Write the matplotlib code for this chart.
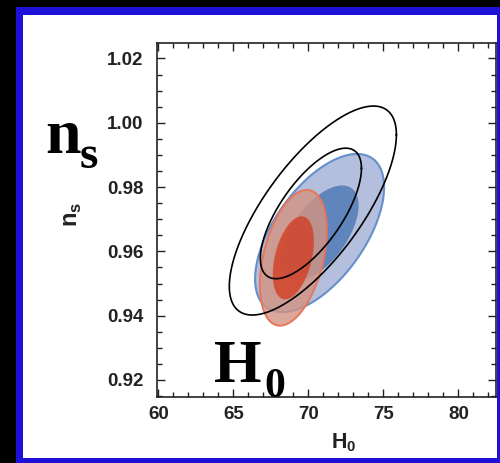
import numpy as np
import matplotlib
matplotlib.use("Agg")
import matplotlib.pyplot as plt
from matplotlib.patches import Rectangle

# --- DATA ---
# each contour: centre H0, centre ns, half-width in H0, half-height in ns, correlation
blue_centre = [70.75, 0.9657]
blue_halfw = [4.30, 2.60]          # 2-sigma, 1-sigma
blue_halfh = [0.0246, 0.0148]
blue_rho = 0.58

red_centre = [69.0, 0.958]
red_halfw = [2.23, 1.37]
red_halfh = [0.0211, 0.0129]
red_rho = 0.40

black_centre = [[70.30, 0.9727], [70.17, 0.9718]]
black_halfw = [5.57, 3.37]
black_halfh = [0.0325, 0.0203]
black_rho = [0.725, 0.69]

xticks = [60, 65, 70, 75, 80]
yticks = [0.92, 0.94, 0.96, 0.98, 1.00, 1.02]
xlim = (59.93, 82.51)
ylim = (0.9148, 1.0249)


def contour(c, a, b, rho, n=300):
    t = np.linspace(0, 2 * np.pi, n)
    x = c[0] + a * np.cos(t)
    y = c[1] + b * (rho * np.cos(t) + np.sqrt(1 - rho ** 2) * np.sin(t))
    return x, y


plt.rcParams['mathtext.fontset'] = 'custom'
plt.rcParams['mathtext.rm'] = 'Liberation Sans:bold'

W, H = 500, 463
fig = plt.figure(figsize=(W / 100, H / 100), dpi=100, facecolor='black')

# blue frame + white panel (behind the axes)
fig.patches.append(Rectangle((16 / W, -0.05), 1.0, 1 - 7 / H + 0.05,
                             transform=fig.transFigure, facecolor='#1f10d8',
                             edgecolor='none', zorder=-2))
fig.patches.append(Rectangle((23 / W, 5 / H), (497 - 23) / W, (458 - 15) / H,
                             transform=fig.transFigure, facecolor='white',
                             edgecolor='none', zorder=-1))

ax = fig.add_axes([157.3 / W, 1 - 396.7 / H, (496 - 157.3) / W, (396.7 - 42.7) / H])
ax.set_facecolor('white')

# blue (2 sigma then 1 sigma)
x, y = contour(blue_centre, blue_halfw[0], blue_halfh[0], blue_rho)
ax.fill(x, y, facecolor='#b4bedd', edgecolor='#6590cb', linewidth=1.5, zorder=2)
x, y = contour(blue_centre, blue_halfw[1], blue_halfh[1], blue_rho)
ax.fill(x, y, facecolor='#5f85bc', edgecolor='none', zorder=2)

# red, slightly transparent over blue
x, y = contour(red_centre, red_halfw[0], red_halfh[0], red_rho)
ax.fill(x, y, facecolor=(211 / 255, 147 / 255, 130 / 255, 0.8), edgecolor='#e8765a',
        linewidth=1.4, zorder=3)
x, y = contour(red_centre, red_halfw[1], red_halfh[1], red_rho)
ax.fill(x, y, facecolor=(209 / 255, 72 / 255, 48 / 255, 0.9), edgecolor='none', zorder=3)

# black outline contours
for c, a, b, r in zip(black_centre, black_halfw, black_halfh, black_rho):
    x, y = contour(c, a, b, r)
    ax.plot(x, y, color='black', linewidth=1.2, zorder=4)

ax.set_xlim(*xlim)
ax.set_ylim(*ylim)
ax.set_xticks(xticks)
ax.set_yticks(yticks)
ax.set_yticklabels([f"{v:.2f}" for v in yticks])
ax.set_xticks(np.arange(61, 83, 1), minor=True)
ax.set_yticks(np.arange(0.915, 1.025, 0.005), minor=True)
ax.tick_params(which='both', direction='in', top=True, right=True, color='#222222',
               width=1.0)
ax.tick_params(which='major', length=6, labelsize=13.5, pad=10)
ax.tick_params(which='minor', length=3.5)
ax.tick_params(axis='x', which='major', pad=7)
for lab in ax.get_xticklabels() + ax.get_yticklabels():
    lab.set_fontfamily('Liberation Sans')
    lab.set_fontweight('bold')
    lab.set_color('#222222')
for s in ax.spines.values():
    s.set_linewidth(1.2)
    s.set_color('#222222')

ax.set_xlabel(r'H$_\mathrm{0}$', fontsize=15.5, family='Liberation Sans',
              fontweight='bold', color='#222222')
ax.set_ylabel(r'n$_\mathrm{s}$', fontsize=17, family='Liberation Sans',
              fontweight='bold', color='#222222')
ax.xaxis.set_label_coords((344 - 157.3) / 338.7, (396.7 - 431) / 354)
ax.yaxis.set_label_coords((84 - 157.3) / 338.7, (396.7 - 214) / 354)

# big serif annotations
serif = dict(family='Liberation Serif', fontweight='bold', color='black',
             ha='left', va='baseline')
fig.text(45 / W, 1 - 153 / H, 'n', fontsize=46, **serif)
fig.text(80 / W, 1 - 168 / H, 's', fontsize=34, **serif)
fig.text(214 / W, 1 - 382 / H, 'H', fontsize=44, zorder=5, **serif)
fig.text(264 / W, 1 - 397 / H, '0', fontsize=30, zorder=5, **serif)

fig.savefig('out.png', dpi=100, facecolor='black')
